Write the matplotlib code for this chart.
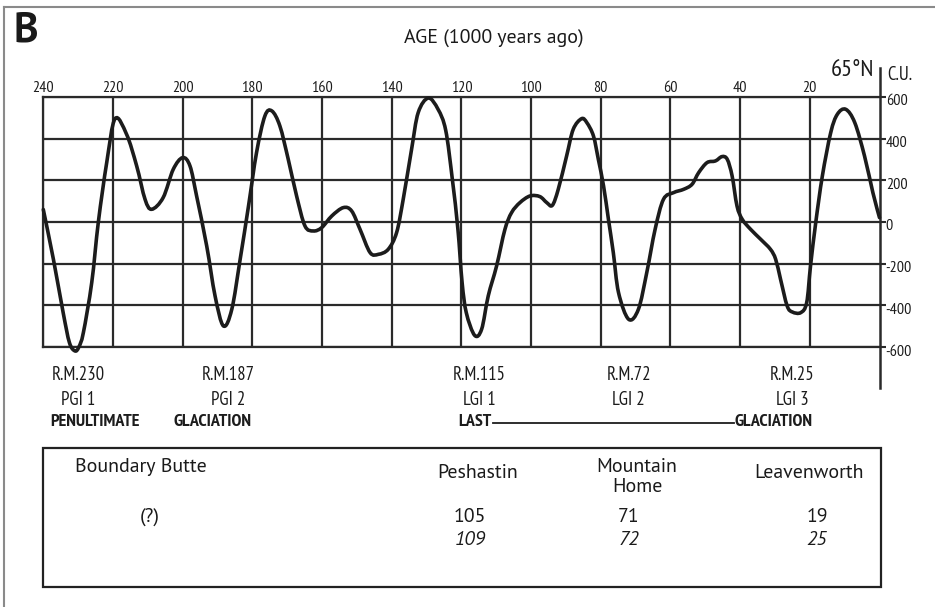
import matplotlib
matplotlib.use("Agg")
import numpy as np
import matplotlib.pyplot as plt
from matplotlib.patches import Rectangle, PathPatch
from matplotlib.lines import Line2D
from matplotlib.path import Path
import matplotlib.transforms as mtransforms

# ---------------- data ----------------
ages = [240, 237.1, 234.3, 232.5, 230.9, 229.8, 228.5, 226.1, 224.2, 221.8,
        219.4, 216.1, 213.2, 210.8, 208.9, 205.6, 202.7, 200.0, 197.9, 196.0,
        193.1, 190.7, 188.3, 185.9, 183.5, 181.1, 178.8, 176.4, 174.4, 172.1,
        169.7, 167.3, 164.9, 162.5, 160.1, 157.2, 153.9, 151.5, 149.1, 146.2,
        143.8, 141.0, 138.6, 136.7, 134.3, 132.4, 129.5, 126.7, 124.5, 122.6,
        121.0, 119.8, 118.6, 116.2, 114.2, 112.3, 109.9, 107.5, 105.6, 103.2,
        100.3, 97.5, 95.5, 93.9, 92.2, 89.8, 87.9, 85.5, 84.0, 82.1,
        80.7, 79.2, 77.8, 76.4, 74.9, 72.0, 69.2, 66.8, 64.4, 62.0,
        59.1, 56.2, 53.8, 51.9, 49.5, 47.1, 45.2, 43.7, 42.3, 40.9,
        39.4, 37.0, 34.1, 31.3, 29.8, 28.4, 26.5, 25.0, 22.6, 20.9,
        19.8, 18.3, 16.4, 14.0, 12.1, 9.7, 7.1, 4.3, 1.9, 0.0]
insolation = [60, -179, -435, -579, -619, -600, -531, -291, 0, 285,
              496, 421, 269, 109, 61, 117, 253, 309, 269, 125,
              -115, -355, -499, -419, -179, 77, 333, 509, 533, 461,
              301, 125, -19, -43, -27, 29, 69, 53, -35, -147,
              -155, -131, -51, 109, 349, 525, 595, 541, 440, 205,
              -35, -290, -435, -544, -515, -355, -211, -35, 45, 93,
              125, 122, 93, 80, 157, 317, 445, 496, 477, 413,
              301, 173, 13, -147, -339, -467, -419, -243, -35, 109,
              141, 157, 181, 237, 285, 293, 314, 301, 221, 77,
              13, -35, -83, -131, -179, -275, -403, -432, -435, -387,
              -211, -3, 221, 429, 517, 541, 477, 317, 141, 21]

age_ticks = [240, 220, 200, 180, 160, 140, 120, 100, 80, 60, 40, 20]
age_ticklabels = ["240", "220", "200", "180", "160", "140", "120", "100", "80", "60", "40", "20"]
cu_ticks = [600, 400, 200, 0, -200, -400, -600]
cu_ticklabels = ["600", "400", "200", "0", "-200", "-400", "-600"]

rm_ages = [230, 187, 115, 72, 25]
rm_labels = ["R.M.230", "R.M.187", "R.M.115", "R.M.72", "R.M.25"]
gi_labels = ["PGI 1", "PGI 2", "LGI 1", "LGI 2", "LGI 3"]

table_sites = ["Boundary Butte", "Peshastin", "Mountain\nHome", "Leavenworth"]
table_row1 = ["(?)", "105", "71", "19"]
table_row2 = ["", "109", "72", "25"]

# ---------------- figure ----------------
W, H = 935, 607
fig = plt.figure(figsize=(W / 100, H / 100), dpi=100)
fig.patch.set_facecolor("white")

def px(x, y):
    return x / W, 1 - y / H

hand = ["PT Sans Narrow", "DejaVu Sans"]
sans = ["PT Sans", "DejaVu Sans"]
ink = "#1c1c1c"
gridc = "#2a2a2a"

left, right, top, bottom = 43.3, 879.5, 97, 347
ax = fig.add_axes([left / W, 1 - bottom / H, (right - left) / W, (bottom - top) / H])
ax.set_xlim(240, 0)
ax.set_ylim(-600, 600)
ax.set_facecolor("none")

pts = np.column_stack([ages, insolation]).astype(float)
verts = [pts[0]]
codes = [Path.MOVETO]
n = len(pts)
for i in range(n - 1):
    p0 = pts[i - 1] if i > 0 else pts[i]
    p1 = pts[i]
    p2 = pts[i + 1]
    p3 = pts[i + 2] if i + 2 < n else pts[i + 1]
    verts += [p1 + (p2 - p0) / 6.0, p2 - (p3 - p1) / 6.0, p2]
    codes += [Path.CURVE4] * 3
ax.add_patch(PathPatch(Path(verts, codes), fill=False, edgecolor=ink, lw=2.6,
                       capstyle="round", joinstyle="round", zorder=3, clip_on=False))

ax.set_xticks(age_ticks)
ax.set_xticklabels(age_ticklabels, family=hand, fontsize=11.5, color=ink)
ax.xaxis.tick_top()
ax.tick_params(axis="x", length=0, pad=1.5)

ax.set_yticks(cu_ticks)
ax.set_yticklabels(cu_ticklabels, family=hand, fontsize=11.5, color=ink)
ax.yaxis.tick_right()
ax.tick_params(axis="y", length=4, width=1.5, color=gridc, pad=0.5)
offset = mtransforms.ScaledTranslation(0, -3 / 100, fig.dpi_scale_trans)
for lab in ax.get_yticklabels():
    lab.set_transform(lab.get_transform() + offset)

ax.grid(True, color=gridc, lw=1.6)
ax.set_axisbelow(True)
for side in ["left", "top", "bottom"]:
    ax.spines[side].set_color(gridc)
    ax.spines[side].set_linewidth(1.6)
ax.spines["right"].set_visible(False)
ax.axvline(0, ymin=-0.164, ymax=1.116, color=gridc, lw=1.8, clip_on=False)

# labels under the curve
tr = mtransforms.blended_transform_factory(ax.transData, ax.transAxes)
for a, l1, l2 in zip(rm_ages, rm_labels, gi_labels):
    ax.text(a, -0.112, l1, transform=tr, ha="center", va="center",
            family=hand, fontsize=13.5, color=ink)
    ax.text(a, -0.212, l2, transform=tr, ha="center", va="center",
            family=hand, fontsize=13.5, color=ink)
ax.text(225.3, -0.30, "PENULTIMATE", transform=tr, ha="center", va="center",
        family=hand, fontsize=13, fontweight="bold", color=ink)
ax.text(191.5, -0.30, "GLACIATION", transform=tr, ha="center", va="center",
        family=hand, fontsize=13, fontweight="bold", color=ink)
ax.text(121, -0.30, "LAST", transform=tr, ha="left", va="center",
        family=hand, fontsize=13, fontweight="bold", color=ink)
ax.text(41.6, -0.30, "GLACIATION", transform=tr, ha="left", va="center",
        family=hand, fontsize=13, fontweight="bold", color=ink)
fig.add_artist(Line2D([px(493, 0)[0], px(734, 0)[0]], [px(0, 423)[1]] * 2,
                      color=ink, lw=1.3))

# titles
fig.text(*px(14, 31), "B", fontsize=30, fontweight="bold", family=sans,
         color="#1a1a1a", ha="left", va="center")
fig.text(*px(494, 38), "AGE (1000 years ago)", fontsize=14.3, family=sans,
         color="#1a1a1a", ha="center", va="center")
fig.text(*px(852, 71), "65°N", fontsize=17.5, family=hand, color=ink,
         ha="center", va="center")
fig.text(*px(900, 75), "C.U.", fontsize=13.5, family=hand, color=ink,
         ha="center", va="center")

# table
fig.add_artist(Rectangle(px(43, 587), (881 - 43) / W, (587 - 448) / H,
                         fill=False, edgecolor="#222222", lw=1.6))
head_x = [75, 478, 637, 809]
head_y = [467, 473, 477, 473]
head_ha = ["left", "center", "center", "center"]
for name, x, y, ha in zip(table_sites, head_x, head_y, head_ha):
    fig.text(*px(x, y), name, fontsize=14.3, family=sans, color="#1a1a1a",
             ha=ha, va="center", linespacing=1.1)
val_x = [150, 470, 629, 817]
for v, x in zip(table_row1, val_x):
    fig.text(*px(x, 517), v, fontsize=14.3, family=sans, color="#1a1a1a",
             ha="center", va="center")
for v, x in zip(table_row2, val_x):
    if v:
        fig.text(*px(x, 540), v, fontsize=14.3, family=sans, style="italic",
                 color="#1a1a1a", ha="center", va="center")

# outer frame of the panel
fig.add_artist(Line2D([px(4, 0)[0], 1], [px(0, 7)[1]] * 2, color="#8a8a8a", lw=1.5))
fig.add_artist(Line2D([px(4, 0)[0]] * 2, [px(0, 7)[1], 0], color="#8a8a8a", lw=1.5))

fig.savefig("out.png", dpi=100, facecolor="white")
